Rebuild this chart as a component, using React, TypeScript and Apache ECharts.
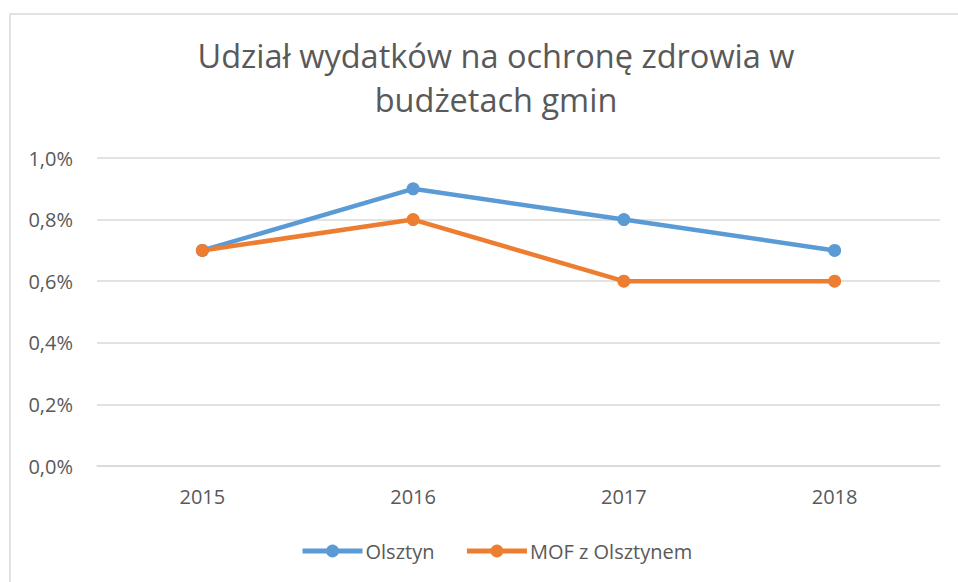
import React, { useEffect, useRef } from "react";
import * as echarts from "echarts";

const categories = ["2015", "2016", "2017", "2018"];
const olsztyn = [0.7, 0.9, 0.8, 0.7];
const mof = [0.7, 0.8, 0.6, 0.6];
const seriesNames = ["Olsztyn", "MOF z Olsztynem"];
const titleText = "Udział wydatków na ochronę zdrowia w\nbudżetach gmin";

const FONT = "'Open Sans', 'Noto Sans', sans-serif";
const GREY = "#595959";

export default function App() {
  const ref = useRef<HTMLDivElement>(null);
  useEffect(() => {
    const chart = echarts.init(ref.current!, null, { renderer: "svg" });
    chart.setOption({
      animation: false,
      backgroundColor: "#ffffff",
      graphic: [
        {
          type: "rect",
          shape: { x: 10, y: 14, width: 1000, height: 1000 },
          style: { fill: "none", stroke: "#d9d9d9", lineWidth: 1.5 },
          silent: true,
        },
      ],
      title: {
        text: titleText,
        left: 491,
        textAlign: "center",
        top: 28,
        textStyle: {
          fontFamily: FONT,
          fontSize: 32.5,
          fontWeight: "normal",
          color: GREY,
          lineHeight: 44,
        },
      },
      legend: {
        left: 295,
        top: 536,
        itemWidth: 60,
        itemHeight: 16,
        itemGap: 30,
        lineStyle: { width: 5 },
        textStyle: { fontFamily: FONT, fontSize: 20, color: GREY, padding: [0, 0, 0, -2] },
        data: seriesNames,
      },
      grid: { left: 97, right: 18, top: 158, bottom: 116 },
      xAxis: {
        type: "category",
        data: categories,
        boundaryGap: true,
        axisLine: { lineStyle: { color: "#d9d9d9", width: 1.5 } },
        axisTick: { show: false },
        axisLabel: { fontFamily: FONT, fontSize: 20, color: GREY, margin: 20 },
      },
      yAxis: {
        type: "value",
        min: 0,
        max: 1,
        interval: 0.2,
        axisLine: { show: false },
        axisTick: { show: false },
        splitLine: { lineStyle: { color: "#d9d9d9", width: 1.5 } },
        axisLabel: {
          fontFamily: FONT,
          fontSize: 20,
          color: GREY,
          margin: 24,
          formatter: (v: number) => v.toFixed(1).replace(".", ",") + "%",
        },
      },
      series: [
        {
          name: seriesNames[0],
          type: "line",
          data: olsztyn,
          symbol: "circle",
          symbolSize: 13,
          itemStyle: { color: "#5B9BD5" },
          lineStyle: { color: "#5B9BD5", width: 4.5 },
        },
        {
          name: seriesNames[1],
          type: "line",
          data: mof,
          symbol: "circle",
          symbolSize: 13,
          itemStyle: { color: "#ED7D31" },
          lineStyle: { color: "#ED7D31", width: 4.5 },
        },
      ],
    });
    return () => chart.dispose();
  }, []);
  return (
    <div
      ref={ref}
      style={{ position: "fixed", left: 0, top: 0, width: 958, height: 582 }}
    />
  );
}
